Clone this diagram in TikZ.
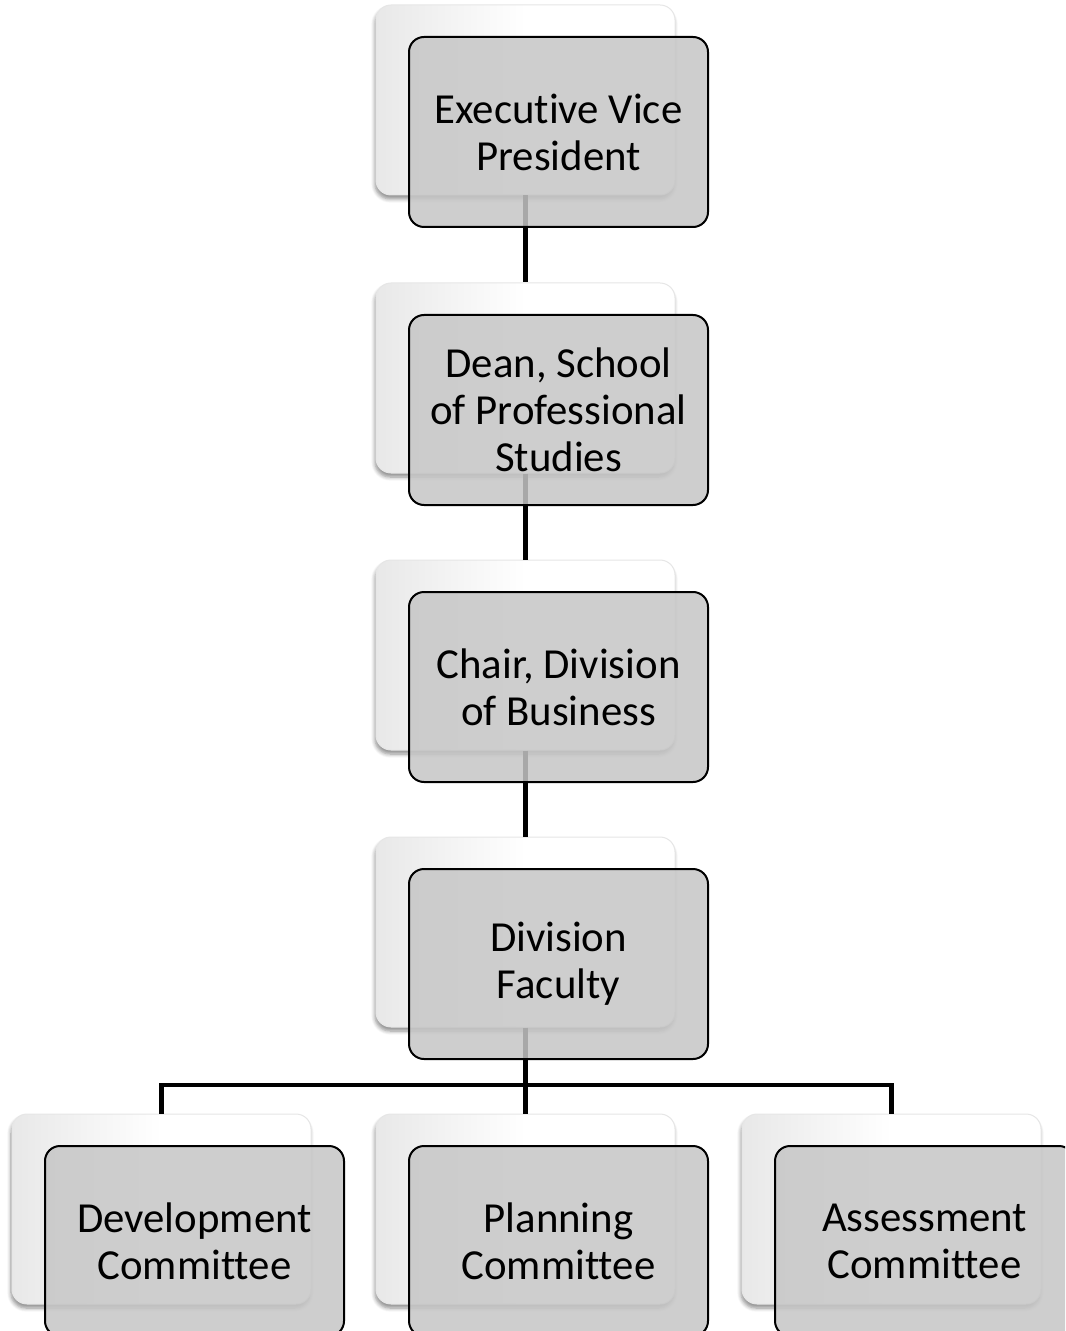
\documentclass[tikz,border=0pt]{standalone}
\usepackage{fontspec}
\setmainfont{Carlito}[Ligatures=NoCommon]
\usetikzlibrary{positioning,shadows,shadows.blur}
\definecolor{ink}     {HTML}{000000}
\definecolor{boxgray} {HTML}{C6C6C6}
\definecolor{rim}     {HTML}{E6E6E6}
\tikzset{
  every node/.style={font=\fontsize{21.4}{23.5}\selectfont},
  % --- nodes
  back/.style  = {rounded corners=7.5pt, draw=rim, line width=0.5pt,
                  left color=black!9, right color=white, middle color=white,
                  minimum width=149.5pt, minimum height=95pt, inner sep=0pt,
                  blur shadow={shadow xshift=-0.5pt, shadow yshift=-2pt,
                               shadow blur steps=6, shadow opacity=45}},
  front/.style = {rounded corners=7.5pt, fill=boxgray, fill opacity=0.85, text opacity=1,
                  draw=ink, line width=1pt, align=center, inner sep=2pt,
                  minimum width=149.5pt, minimum height=95pt},
  % --- edges
  link/.style  = {draw=ink, line width=2.4pt},
}
\begin{document}
\begin{tikzpicture}[x=0.5pt,y=-0.5pt]
  \useasboundingbox (0,0) rectangle (1065,1331);
  \clip (0,0) rectangle (1065,1331);
  % back cards
  \node[back] (b1) at (525.5,100)  {};
  \node[back] (b2) at (525.5,378)  {};
  \node[back] (b3) at (525.5,655)  {};
  \node[back] (b4) at (525.5,932)  {};
  \node[back] (b5) at (161.5,1209) {};
  \node[back] (b6) at (525.5,1209) {};
  \node[back] (b7) at (891.5,1209) {};
  % connectors
  \coordinate (bar) at (525.5,1085);
  \draw[link] (b1) -- (b2); \draw[link] (b2) -- (b3); \draw[link] (b3) -- (b4);
  \draw[link] (b4) -- (b6);
  \draw[link] (bar) -| (b5); \draw[link] (bar) -| (b7);
  % front cards
  \node[front] (evp)  at ([shift={(33,32)}]b1) {Executive Vice\\President};
  \node[front] (dean) at ([shift={(33,32)}]b2) {Dean, School\\of Professional\\Studies};
  \node[front] (chr)  at ([shift={(33,32)}]b3) {Chair, Division\\of Business};
  \node[front] (fac)  at ([shift={(33,32)}]b4) {Division\\Faculty};
  \node[front] (dev)  at ([shift={(33,32)}]b5) {Development\\Committee};
  \node[front] (plan) at ([shift={(33,32)}]b6) {Planning\\Committee};
  \node[front] (ass)  at ([shift={(33,32)}]b7) {Assessment\\Committee};
\end{tikzpicture}
\end{document}
